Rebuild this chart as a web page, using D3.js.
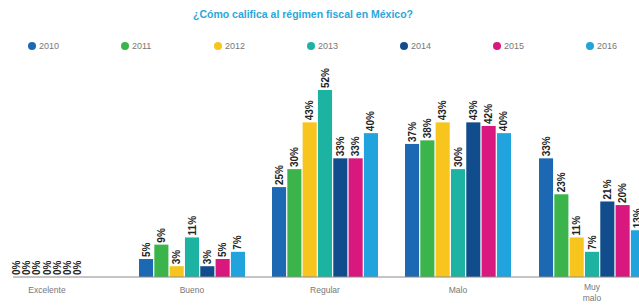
<!DOCTYPE html>
<html>
<head>
<meta charset="utf-8">
<script src="https://cdn.jsdelivr.net/npm/d3@7"></script>
<style>
  body { margin: 0; background: #fff; }
  svg { display: block; font-family: "Liberation Sans", Arial, sans-serif; }
</style>
</head>
<body>
<div id="chart"></div>
<script>
const title = '¿Cómo califica al régimen fiscal en México?';
const categories = ['Excelente', 'Bueno', 'Regular', 'Malo', 'Muy malo'];
const years = ['2010', '2011', '2012', '2013', '2014', '2015', '2016'];
const colors = ['#1c68b2', '#3bb54b', '#f7c51e', '#1db3a2', '#114d8c', '#d8177f', '#21a3dd'];

// one array per year, in category order
const v2010 = [0, 5, 25, 37, 33];
const v2011 = [0, 9, 30, 38, 23];
const v2012 = [0, 3, 43, 43, 11];
const v2013 = [0, 11, 52, 30, 7];
const v2014 = [0, 3, 33, 43, 21];
const v2015 = [0, 5, 33, 42, 20];
const v2016 = [0, 7, 40, 40, 13];
const series = [v2010, v2011, v2012, v2013, v2014, v2015, v2016];

const width = 639, height = 305;
const baseline = 277;

const svg = d3.select('#chart')
  .append('svg')
  .attr('width', width)
  .attr('height', height);

// group centres along the axis
const x = d3.scaleOrdinal()
  .domain(categories)
  .range([47, 192, 325, 458, 592]);

// bars inside a group; the empty first group is packed tighter
const xgWide = d3.scaleBand().domain(years).range([-53, 53]).paddingInner(0.08);
const xgTight = d3.scaleBand().domain(years).range([-35, 35]).paddingInner(0.08);
const xg = cat => (cat === 'Excelente' ? xgTight : xgWide);

const y = d3.scaleLinear()
  .domain([0, 52])
  .range([baseline, 90]);

const color = d3.scaleOrdinal().domain(years).range(colors);

// title
svg.append('text')
  .attr('x', 303)
  .attr('y', 18)
  .attr('text-anchor', 'middle')
  .attr('font-size', 10.5)
  .attr('font-weight', 'bold')
  .attr('fill', '#2aa6da')
  .text(title);

// legend
const legendX = d3.scalePoint().domain(years).range([32, 590]);
const legend = svg.append('g')
  .selectAll('g')
  .data(years)
  .join('g')
  .attr('transform', d => `translate(${legendX(d)}, 46)`);

legend.append('circle')
  .attr('r', 4)
  .attr('fill', d => color(d));

legend.append('text')
  .attr('x', 7)
  .attr('dy', '0.35em')
  .attr('font-size', 9)
  .attr('fill', '#777')
  .text(d => d);

// bars
const rows = [];
categories.forEach((cat, ci) => {
  years.forEach((yr, yi) => rows.push({ cat, yr, value: series[yi][ci] }));
});

const groups = svg.append('g')
  .selectAll('g')
  .data(categories)
  .join('g')
  .attr('transform', d => `translate(${x(d)}, 0)`);

groups.selectAll('rect')
  .data(c => rows.filter(r => r.cat === c))
  .join('rect')
  .attr('x', d => xg(d.cat)(d.yr))
  .attr('y', d => y(d.value))
  .attr('width', d => xgWide.bandwidth())
  .attr('height', d => baseline - y(d.value))
  .attr('fill', d => color(d.yr));

groups.selectAll('text.val')
  .data(c => rows.filter(r => r.cat === c))
  .join('text')
  .attr('class', 'val')
  .attr('transform', d => {
    const cx = xg(d.cat)(d.yr) + xg(d.cat).bandwidth() / 2;
    return `translate(${cx}, ${y(d.value) - 2}) rotate(-90)`;
  })
  .attr('dy', '0.35em')
  .attr('font-size', 10)
  .attr('font-weight', 'bold')
  .attr('fill', '#222')
  .text(d => d.value + '%');

// axis line and category labels
const axis = svg.append('g').attr('transform', `translate(0, ${baseline})`);
axis.append('line')
  .attr('x1', 13)
  .attr('x2', width)
  .attr('stroke', '#8a8a8a')
  .attr('stroke-width', 1);

const catLabels = axis.selectAll('text.cat')
  .data(categories)
  .join('text')
  .attr('class', 'cat')
  .attr('x', d => x(d))
  .attr('y', 16)
  .attr('text-anchor', 'middle')
  .attr('font-size', 8.5)
  .attr('fill', '#777');

catLabels.each(function(d) {
  const words = d === 'Muy malo' ? ['Muy', 'malo'] : [d];
  const t = d3.select(this);
  words.forEach((w, i) => {
    t.append('tspan')
      .attr('x', x(d))
      .attr('dy', i === 0 ? (words.length > 1 ? -3 : 0) : 11)
      .text(w);
  });
});
</script>
</body>
</html>
